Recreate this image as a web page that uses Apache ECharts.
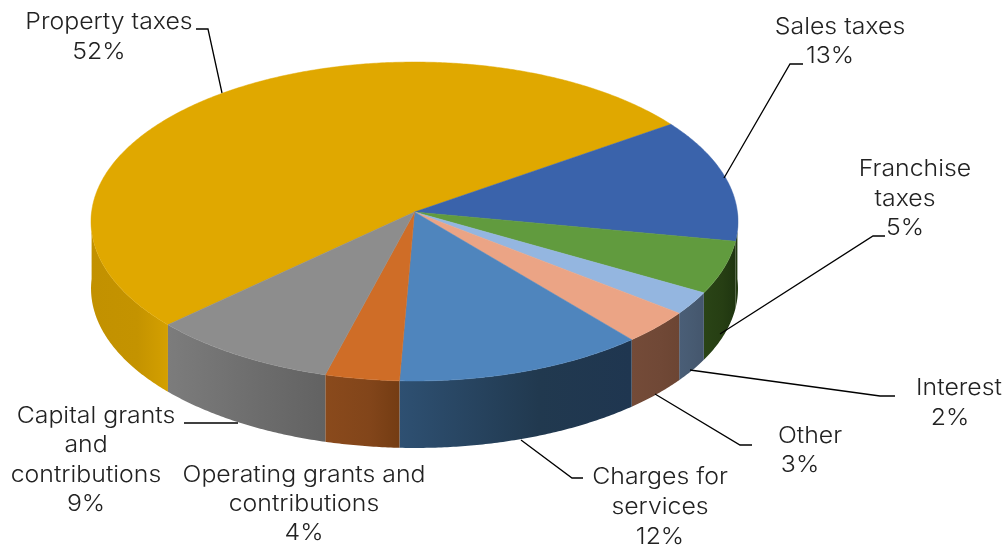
<!DOCTYPE html>
<html><head><meta charset="utf-8">
<style>html,body{margin:0;padding:0;background:#fff}#c{width:1005px;height:546px}</style>
<script src="https://cdn.jsdelivr.net/npm/echarts@6/dist/echarts.min.js"></script></head>
<body><div id="c"></div>
<script>
// Data (each rounds to the printed percentage)
const categories = ['Property taxes','Sales taxes','Franchise taxes','Interest','Other','Charges for services','Operating grants and contributions','Capital grants and contributions'];
const shares = [52.3,12.6,5.3,2.3,3.4,11.8,3.5,8.9];
const topColors = ['#E0A800','#3A63AB','#619B3E','#94B6E0','#EBA485','#4F85BD','#CF6D27','#8D8D8D'];
const wallLeft  = ['#C29100','#243C12','#2A4416','#4A5E77','#744B38','#2E5072','#8A4A1C','#7C7C7C'];
const wallMid   = ['#C49300','#223A11','#263E13','#475A71','#704836','#21394F','#82451A','#6C6C6C'];
const wallRight = ['#D4A000','#203610','#1F3510','#44566D','#6C4533','#1F3650','#743C13','#626262'];

// Layout: projected disc (apex position, horizontal and vertical scale, perspective, thickness)
const C = {x:414.5, y:212, a:322.9, b:158.9, k:0.0596, depth:67, startDeg:222.9};
const FONT = 'Inter';
// label wrapping, anchored per line; a number stands for the rounded share of that slice
const labelLines = [
 [['Property taxes',109,22],[0,99,52]],
 [['Sales taxes',840,27],[1,830,56]],
 [['Franchise',915,169],['taxes',905,199],[2,905,228]],
 [['Interest',959,388],[3,950,418]],
 [['Other',810,436],[4,800,465]],
 [['Charges for',660,477],['services',660,507],[5,660,537]],
 [['Operating grants and',304,475],['contributions',304,504],[6,304,533]],
 [['Capital grants',96,416],['and',86,445],['contributions',86,475],[7,86,504]]
];
const leaders = [
 [[196,29],[208,29],[222,93]],
 [[803,64],[790,64],[724,178]],
 [[885,236],[873,236],[720,334]],
 [[895,396],[880,396],[690,370]],
 [[752,445],[740,445],[655,394]],
 [[583,478],[572,478],[521,440]],
 [[184,423],[238,423]]
];

const total = shares.reduce((a,b)=>a+b,0);
const ranges = []; let a0 = C.startDeg;
shares.forEach(v=>{const a1=a0-v/total*360; ranges.push([a0,a1]); a0=a1;});
const pt=(deg,dy)=>{const r=deg*Math.PI/180,u=Math.cos(r),v=Math.sin(r),w=1+C.k*v;
  return [C.x+C.a*u/w,C.y-C.b*v/w+(dy||0)];};
function arc(from,to,dy){const n=Math.max(2,Math.ceil(Math.abs(from-to)*2));const p=[];for(let i=0;i<=n;i++)p.push(pt(from+(to-from)*i/n,dy));return p;}
// Parts of [from,to] (decreasing degrees) on the near side of the disc
function visible(from,to){const out=[];[[360,180],[0,-180]].forEach(([h,l])=>{const f=Math.min(from,h),t=Math.max(to,l);if(f>t)out.push([f,t]);});return out;}

const data = categories.map((n,i)=>({name:n,value:shares[i]}));
function renderWall(params){
  const i=params.dataIndex, r=ranges[i];
  return {type:'group',children:visible(r[0],r[1]).map(([f,t])=>({
    type:'polygon',silent:true,
    shape:{points:arc(f,t,0).concat(arc(t,f,C.depth))},
    style:{fill:new echarts.graphic.LinearGradient(0,0,1,0,[{offset:0,color:wallLeft[i]},{offset:0.6,color:wallMid[i]},{offset:1,color:wallRight[i]}]),stroke:null}
  }))};
}
function renderTop(params){
  const i=params.dataIndex, r=ranges[i];
  return {type:'polygon',silent:true,
    shape:{points:[[C.x,C.y]].concat(arc(r[0],r[1],0))},
    style:{fill:topColors[i],stroke:topColors[i],lineWidth:0.5}};
}
const graphic=[];
leaders.forEach(p=>graphic.push({type:'polyline',silent:true,z:10,shape:{points:p},style:{stroke:'#000',lineWidth:1.3,fill:null}}));
labelLines.forEach(ls=>ls.forEach(([t,x,y])=>graphic.push({type:'text',silent:true,z:11,x,y,scaleX:1.08,
  style:{text:typeof t==='number'?Math.round(shares[t])+'%':t,fill:'#222',font:'300 23px '+FONT,align:'center',verticalAlign:'middle'}})));

const chart=echarts.init(document.getElementById('c'),null,{renderer:'canvas'});
chart.setOption({animation:false,backgroundColor:'#fff',
  series:[
    {type:'custom',coordinateSystem:'none',data,renderItem:renderWall,z:1,silent:true},
    {type:'custom',coordinateSystem:'none',data,renderItem:renderTop,z:2,silent:true}
  ],
  graphic});
</script></body></html>
